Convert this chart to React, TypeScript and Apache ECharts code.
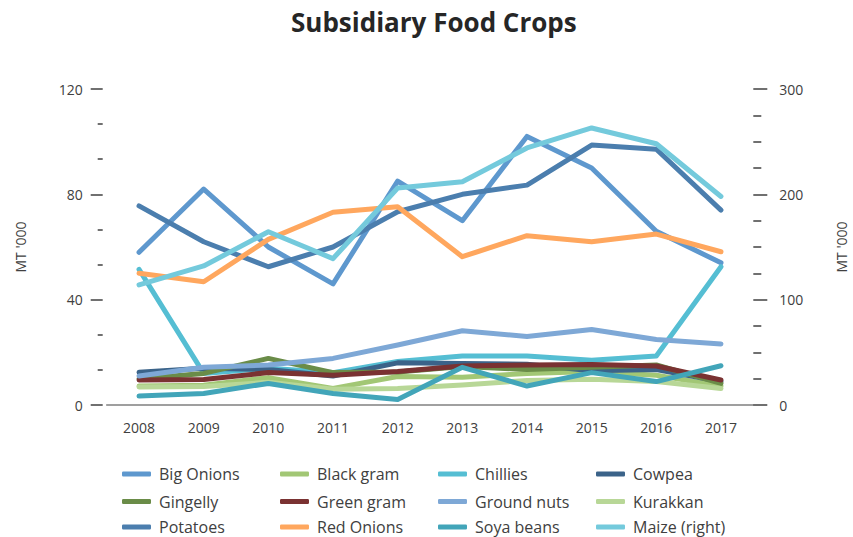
import React, { useEffect, useRef } from "react";
import * as echarts from "echarts";

const years = ["2008", "2009", "2010", "2011", "2012", "2013", "2014", "2015", "2016", "2017"];

const bigOnions = [58, 82, 60, 46, 85, 70, 102, 90, 66, 54];
const blackGram = [7.2, 7.5, 10.4, 6.3, 10.8, 10.5, 12, 12.7, 11.3, 7.2];
const chillies = [51.5, 12, 14, 12.3, 16.5, 18.6, 18.6, 17, 18.6, 52.5];
const cowpea = [12.4, 14, 13.5, 11, 16, 15.8, 15.5, 13, 13.5, 8.9];
const gingelly = [10, 12, 17.7, 12.3, 12.5, 14.6, 13.5, 14.3, 15.2, 8.2];
const greenGram = [9.5, 9.7, 12.3, 11.3, 12.7, 14.8, 15.2, 15.4, 14.8, 9.5];
const groundNuts = [11, 14.3, 15.2, 17.7, 22.8, 28.2, 26, 28.7, 24.9, 23.2];
const kurakkan = [6.8, 7, 8.6, 6, 6.3, 7.6, 9.3, 9.8, 8.9, 6.3];
const potatoes = [75.6, 62, 52.5, 60, 73.4, 80, 83.5, 98.7, 97.1, 74];
const redOnions = [50, 46.8, 62.9, 73.2, 75.3, 56.3, 64.3, 62, 64.9, 58.2];
const soyaBeans = [3.4, 4.4, 8.2, 4.4, 2.1, 14.3, 7.2, 12.3, 8.9, 14.9];
const maizeRight = [114, 132, 164.5, 139, 206, 212, 244, 263, 248, 198];

const seriesNames = [
  "Big Onions", "Black gram", "Chillies", "Cowpea",
  "Gingelly", "Green gram", "Ground nuts", "Kurakkan",
  "Potatoes", "Red Onions", "Soya beans", "Maize (right)",
];
const seriesData = [
  bigOnions, blackGram, chillies, cowpea,
  gingelly, greenGram, groundNuts, kurakkan,
  potatoes, redOnions, soyaBeans, maizeRight,
];
const seriesColors = [
  "#5E98CE", "#A2C775", "#55BED3", "#3B6389",
  "#6A8C48", "#7A3232", "#7EA8D6", "#B8D797",
  "#4B7EAE", "#FFA75E", "#42A5B9", "#74CADC",
];

const leftTicks = { min: 0, max: 120, interval: 40 };
const rightTicks = { min: 0, max: 300, interval: 100 };

const FONT = "'Open Sans', 'Noto Sans', sans-serif";
const TXT = "#404040";

export default function App() {
  const ref = useRef<HTMLDivElement>(null);
  useEffect(() => {
    document.body.style.margin = "0";
    if (!ref.current) return;
    const chart = echarts.init(ref.current, undefined, { renderer: "svg" });

    const colLefts = [122, 280, 438, 596];
    const rowCenters = [474, 501.5, 527];
    const legends = seriesNames.map((name, i) => ({
      show: true,
      data: [name],
      left: colLefts[i % 4],
      top: rowCenters[Math.floor(i / 4)] - 9,
      padding: 0,
      icon: "roundRect",
      itemWidth: 29,
      itemHeight: 5,
      selectedMode: false,
      textStyle: { fontFamily: FONT, fontSize: 16, color: TXT, padding: [0, 0, 0, 3], lineHeight: 18 },
    }));

    chart.setOption({
      animation: false,
      backgroundColor: "#ffffff",
      title: {
        text: "Subsidiary Food Crops",
        left: 291,
        top: 9,
        padding: 0,
        textStyle: { fontFamily: FONT, fontSize: 26, fontWeight: "bold", color: "#262626" },
      },
      legend: legends,
      grid: { left: 106.7, right: 99.7, top: 89, bottom: 132, outerBoundsMode: "none", containLabel: false },
      xAxis: {
        type: "category",
        data: years,
        boundaryGap: true,
        axisLine: { show: true, lineStyle: { color: "#808080", width: 1.5 } },
        axisTick: { show: false },
        axisLabel: { fontFamily: FONT, fontSize: 14, color: TXT, margin: 15 },
        splitLine: { show: false },
      },
      yAxis: [
        {
          type: "value",
          position: "left",
          offset: 4,
          min: leftTicks.min,
          max: leftTicks.max,
          interval: leftTicks.interval,
          name: "MT '000",
          nameLocation: "middle",
          nameRotate: 90,
          nameGap: 75,
          nameTextStyle: { fontFamily: FONT, fontSize: 14, color: TXT },
          axisLine: { show: false },
          axisTick: { show: true, length: 12, lineStyle: { color: TXT, width: 1.5 } },
          minorTick: { show: true, splitNumber: 3, length: 5, lineStyle: { color: TXT, width: 1.5 } },
          axisLabel: { fontFamily: FONT, fontSize: 14, color: TXT, margin: 20 },
          splitLine: { show: false },
        },
        {
          type: "value",
          position: "right",
          min: rightTicks.min,
          max: rightTicks.max,
          interval: rightTicks.interval,
          name: "MT '000",
          nameLocation: "middle",
          nameRotate: 90,
          nameGap: 81,
          nameTextStyle: { fontFamily: FONT, fontSize: 14, color: TXT },
          axisLine: { show: false },
          axisTick: { show: true, length: 14, lineStyle: { color: TXT, width: 1.5 } },
          minorTick: { show: true, splitNumber: 4, length: 8, lineStyle: { color: TXT, width: 1.5 } },
          axisLabel: { fontFamily: FONT, fontSize: 14, color: TXT, margin: 26 },
          splitLine: { show: false },
        },
      ],
      series: seriesNames.map((name, i) => ({
        name,
        type: "line",
        yAxisIndex: i === 11 ? 1 : 0,
        data: seriesData[i],
        showSymbol: false,
        symbol: "none",
        color: seriesColors[i],
        lineStyle: { width: 5, color: seriesColors[i], cap: "round", join: "round" },
        itemStyle: { color: seriesColors[i] },
      })),
    });
    return () => chart.dispose();
  }, []);
  return <div ref={ref} style={{ width: 853, height: 537, position: "fixed", left: 0, top: 0 }} />;
}
